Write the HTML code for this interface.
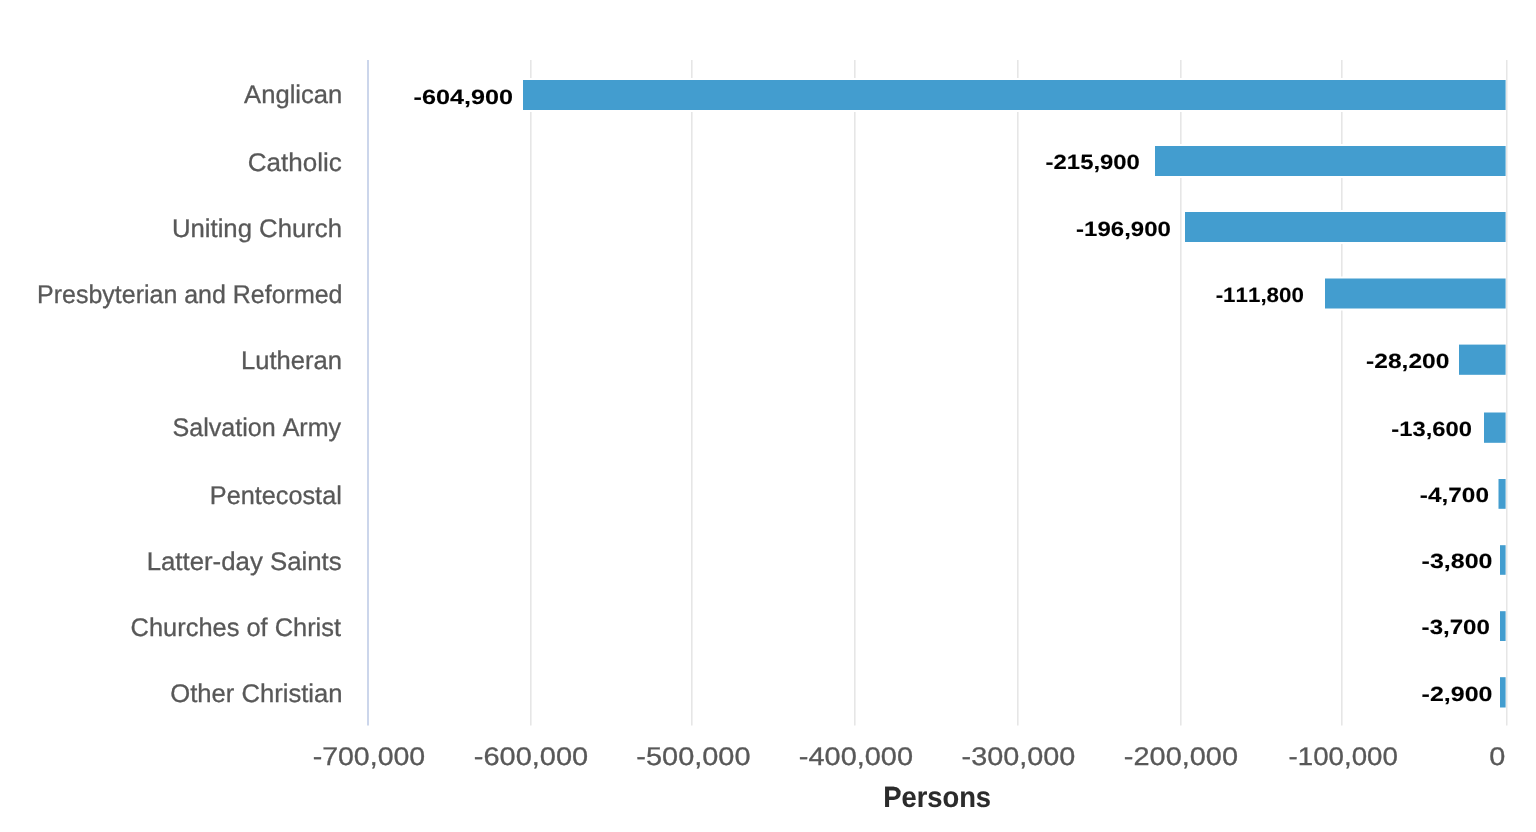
<!DOCTYPE html>
<html><head><meta charset="utf-8"><title>Chart</title>
<style>
html,body{margin:0;padding:0;background:#fff;}
body{width:1536px;height:832px;overflow:hidden;}
svg{display:block;will-change:transform;}
text{font-family:"Liberation Sans",sans-serif;font-kerning:none;white-space:pre;text-rendering:geometricPrecision;}
</style></head><body>
<svg width="1536" height="832" viewBox="0 0 1536 832">
<rect x="0" y="0" width="1536" height="832" fill="#ffffff"/>
<rect x="530" y="60" width="1.6" height="665.5" fill="#e6e6e6"/>
<rect x="691" y="60" width="1.6" height="665.5" fill="#e6e6e6"/>
<rect x="854" y="60" width="1.6" height="665.5" fill="#e6e6e6"/>
<rect x="1017" y="60" width="1.6" height="665.5" fill="#e6e6e6"/>
<rect x="1180" y="60" width="1.6" height="665.5" fill="#e6e6e6"/>
<rect x="1341" y="60" width="1.6" height="665.5" fill="#e6e6e6"/>
<rect x="1506" y="60" width="1.5" height="665.5" fill="#e6e6e6"/>
<rect x="367" y="60" width="2" height="665.5" fill="#ccd6eb"/>
<rect x="521" y="78" width="985" height="34" fill="#ffffff"/>
<rect x="523" y="80" width="982.6" height="30" fill="#439dcf"/>
<rect x="1153" y="144" width="353" height="34" fill="#ffffff"/>
<rect x="1155" y="146" width="350.6" height="30" fill="#439dcf"/>
<rect x="1183" y="210" width="323" height="34" fill="#ffffff"/>
<rect x="1185" y="212" width="320.6" height="30" fill="#439dcf"/>
<rect x="1323" y="276.5" width="183" height="34" fill="#ffffff"/>
<rect x="1325" y="278.5" width="180.6" height="30" fill="#439dcf"/>
<rect x="1457" y="342.6" width="49" height="34.2" fill="#ffffff"/>
<rect x="1459" y="344.6" width="46.6" height="30.2" fill="#439dcf"/>
<rect x="1482" y="410.5" width="24" height="34.3" fill="#ffffff"/>
<rect x="1484" y="412.5" width="21.6" height="30.3" fill="#439dcf"/>
<rect x="1496.5" y="477" width="9.5" height="33.8" fill="#ffffff"/>
<rect x="1498.5" y="479" width="7.1" height="29.8" fill="#439dcf"/>
<rect x="1498" y="543.2" width="8" height="33.6" fill="#ffffff"/>
<rect x="1500" y="545.2" width="5.6" height="29.6" fill="#439dcf"/>
<rect x="1498" y="609.2" width="8" height="33.8" fill="#ffffff"/>
<rect x="1500" y="611.2" width="5.6" height="29.8" fill="#439dcf"/>
<rect x="1498" y="675.2" width="8" height="34.3" fill="#ffffff"/>
<rect x="1500" y="677.2" width="5.6" height="30.3" fill="#439dcf"/>
<text transform="translate(244.10,102.75) scale(1.0035,1)" font-size="25.5" font-weight="normal" fill="#585858" stroke="#585858" stroke-width="0.3">Anglican</text>
<text transform="translate(247.83,170.75) scale(1.0199,1)" font-size="25.5" font-weight="normal" fill="#585858" stroke="#585858" stroke-width="0.3">Catholic</text>
<text transform="translate(171.92,236.75) scale(1.0085,1)" font-size="25.5" font-weight="normal" fill="#585858" stroke="#585858" stroke-width="0.3">Uniting Church</text>
<text transform="translate(37.10,303.00) scale(0.9793,1)" font-size="25.5" font-weight="normal" fill="#585858" stroke="#585858" stroke-width="0.3">Presbyterian and Reformed</text>
<text transform="translate(241.05,369.25) scale(1.0029,1)" font-size="25.5" font-weight="normal" fill="#585858" stroke="#585858" stroke-width="0.3">Lutheran</text>
<text transform="translate(172.51,435.50) scale(0.9834,1)" font-size="25.5" font-weight="normal" fill="#585858" stroke="#585858" stroke-width="0.3">Salvation Army</text>
<text transform="translate(209.83,503.50) scale(0.9903,1)" font-size="25.5" font-weight="normal" fill="#585858" stroke="#585858" stroke-width="0.3">Pentecostal</text>
<text transform="translate(146.63,570.10) scale(1.0118,1)" font-size="25.5" font-weight="normal" fill="#585858" stroke="#585858" stroke-width="0.3">Latter-day Saints</text>
<text transform="translate(130.61,635.90) scale(0.9965,1)" font-size="25.5" font-weight="normal" fill="#585858" stroke="#585858" stroke-width="0.3">Churches of Christ</text>
<text transform="translate(170.34,701.70) scale(1.0041,1)" font-size="25.5" font-weight="normal" fill="#585858" stroke="#585858" stroke-width="0.3">Other Christian</text>
<text transform="translate(413.57,103.50) scale(1.2225,1)" font-size="20.6" font-weight="bold" fill="#000000" stroke="#000000" stroke-width="0.1">-604,900</text>
<text transform="translate(1045.62,169.30) scale(1.1597,1)" font-size="20.6" font-weight="bold" fill="#000000" stroke="#000000" stroke-width="0.1">-215,900</text>
<text transform="translate(1076.11,235.50) scale(1.1660,1)" font-size="20.6" font-weight="bold" fill="#000000" stroke="#000000" stroke-width="0.1">-196,900</text>
<text transform="translate(1215.68,301.75) scale(1.0844,1)" font-size="20.6" font-weight="bold" fill="#000000" stroke="#000000" stroke-width="0.1">-111,800</text>
<text transform="translate(1366.09,367.75) scale(1.1932,1)" font-size="20.6" font-weight="bold" fill="#000000" stroke="#000000" stroke-width="0.1">-28,200</text>
<text transform="translate(1391.37,436.00) scale(1.1529,1)" font-size="20.6" font-weight="bold" fill="#000000" stroke="#000000" stroke-width="0.1">-13,600</text>
<text transform="translate(1419.85,502.25) scale(1.1830,1)" font-size="20.6" font-weight="bold" fill="#000000" stroke="#000000" stroke-width="0.1">-4,700</text>
<text transform="translate(1421.57,568.25) scale(1.2139,1)" font-size="20.6" font-weight="bold" fill="#000000" stroke="#000000" stroke-width="0.1">-3,800</text>
<text transform="translate(1421.61,634.25) scale(1.1698,1)" font-size="20.6" font-weight="bold" fill="#000000" stroke="#000000" stroke-width="0.1">-3,700</text>
<text transform="translate(1421.57,700.50) scale(1.2139,1)" font-size="20.6" font-weight="bold" fill="#000000" stroke="#000000" stroke-width="0.1">-2,900</text>
<text transform="translate(312.63,765.00) scale(1.1183,1)" font-size="25.5" font-weight="normal" fill="#585858" stroke="#585858" stroke-width="0.3">-700,000</text>
<text transform="translate(473.84,765.00) scale(1.1361,1)" font-size="25.5" font-weight="normal" fill="#585858" stroke="#585858" stroke-width="0.3">-600,000</text>
<text transform="translate(636.37,765.00) scale(1.1336,1)" font-size="25.5" font-weight="normal" fill="#585858" stroke="#585858" stroke-width="0.3">-500,000</text>
<text transform="translate(798.87,765.00) scale(1.1336,1)" font-size="25.5" font-weight="normal" fill="#585858" stroke="#585858" stroke-width="0.3">-400,000</text>
<text transform="translate(961.62,765.00) scale(1.1285,1)" font-size="25.5" font-weight="normal" fill="#585858" stroke="#585858" stroke-width="0.3">-300,000</text>
<text transform="translate(1123.87,765.00) scale(1.1336,1)" font-size="25.5" font-weight="normal" fill="#585858" stroke="#585858" stroke-width="0.3">-200,000</text>
<text transform="translate(1288.57,765.00) scale(1.0859,1)" font-size="25.5" font-weight="normal" fill="#585858" stroke="#585858" stroke-width="0.3">-100,000</text>
<text transform="translate(1489.22,765.00) scale(1.1321,1)" font-size="25.5" font-weight="normal" fill="#585858" stroke="#585858" stroke-width="0.3">0</text>
<text transform="translate(883.22,807.00) scale(0.9327,1)" font-size="29.3" font-weight="bold" fill="#2b2b2b" stroke="#2b2b2b" stroke-width="0.1">Persons</text>
</svg></body></html>
